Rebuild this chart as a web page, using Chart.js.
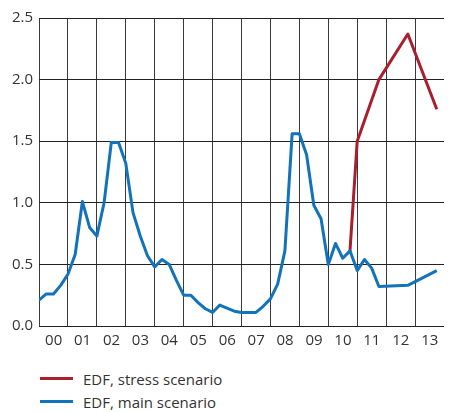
<!DOCTYPE html>
<html>
<head>
<meta charset="utf-8">
<script src="https://cdn.jsdelivr.net/npm/chart.js@4/dist/chart.umd.min.js"></script>
<style>
  html, body { margin: 0; padding: 0; background: #fff; }
  #wrap { position: relative; width: 450px; height: 356px; }
  .legend { position: absolute; left: 40px; font-family: "Open Sans", sans-serif; font-size: 15px; color: #333; }
  .legend div { display: flex; align-items: center; height: 23px; }
  .legend span.sw { display: inline-block; width: 33px; height: 3px; margin-right: 10px; }
</style>
</head>
<body>
<div id="wrap"><canvas id="c"></canvas></div>
<div class="legend" style="top: 367px;">
  <div><span class="sw" style="background:#a81f2e"></span><span id="l1"></span></div>
  <div><span class="sw" style="background:#1273ba"></span><span id="l2"></span></div>
</div>
<script>
// Year tick labels (one per year interval)
const yearLabels = ['00','01','02','03','04','05','06','07','08','09','10','11','12','13'];
const yTicks = [0, 0.5, 1.0, 1.5, 2.0, 2.5];
const seriesNames = ['EDF, stress scenario', 'EDF, main scenario'];

// Main scenario: positions in years since 2000 (quarterly) and values
const mainX = [0,0.25,0.5,0.75,1,1.25,1.5,1.75,2,2.25,2.5,2.75,3,3.25,3.5,3.75,
  4,4.25,4.5,4.75,5,5.25,5.5,5.75,6,6.25,6.5,6.75,7,7.25,7.5,7.75,
  8,8.25,8.5,8.75,9,9.25,9.5,9.75,10,10.25,10.5,10.75,11,11.25,11.5,11.75,12.75,13.75];
const mainY = [0.21,0.26,0.26,0.33,0.42,0.58,1.01,0.80,0.73,1.00,1.49,1.49,1.32,0.92,0.73,0.57,
  0.48,0.54,0.50,0.37,0.25,0.25,0.19,0.14,0.11,0.17,0.145,0.12,0.11,0.11,0.11,0.16,
  0.22,0.34,0.61,1.56,1.56,1.39,0.98,0.87,0.50,0.67,0.55,0.61,0.45,0.54,0.47,0.32,0.33,0.45];

// Stress scenario
const stressX = [10.75, 11.0, 11.75, 12.75, 13.75];
const stressY = [0.61, 1.50, 2.00, 2.37, 1.76];

document.getElementById('l1').textContent = seriesNames[0];
document.getElementById('l2').textContent = seriesNames[1];

const toPts = (xs, ys) => xs.map((x, i) => ({x: x, y: ys[i]}));
const FONT = { family: '"Open Sans", sans-serif', size: 15 };

new Chart(document.getElementById('c'), {
  type: 'line',
  data: {
    datasets: [
      { label: seriesNames[1], data: toPts(mainX, mainY), borderColor: '#1273ba', borderWidth: 3,
        pointRadius: 0, tension: 0, fill: false, borderJoinStyle: 'round' },
      { label: seriesNames[0], data: toPts(stressX, stressY), borderColor: '#a81f2e', borderWidth: 3,
        pointRadius: 0, tension: 0, fill: false, borderJoinStyle: 'round' }
    ]
  },
  options: {
    responsive: true,
    maintainAspectRatio: false,
    animation: false,
    layout: { padding: { top: 18, right: 0, left: 0, bottom: 0 } },
    plugins: { legend: { display: false }, tooltip: { enabled: false } },
    scales: {
      x: {
        type: 'linear', min: 0, max: 14,
        afterBuildTicks: s => { s.ticks = yearLabels.map((_, i) => ({value: i})).concat([{value: 14}]); },
        ticks: { font: FONT, color: '#333', padding: 6, labelOffset: 14.65, maxRotation: 0, autoSkip: false,
          callback: v => yearLabels[v] !== undefined ? yearLabels[v] : '' },
        grid: { color: c => (c.tick && c.tick.value === 14) ? 'rgba(0,0,0,0)' : '#3a3a3a', lineWidth: 1, drawTicks: false },
        border: { display: false }
      },
      y: {
        min: 0, max: 2.5,
        afterBuildTicks: s => { s.ticks = yTicks.map(v => ({value: v})); },
        afterFit: s => { s.width = 39; },
        ticks: { font: FONT, color: '#333', padding: 6, callback: v => Number(v).toFixed(1) },
        grid: { color: '#222', lineWidth: 1, drawTicks: false },
        border: { display: false }
      }
    }
  }
});
</script>
</body>
</html>
